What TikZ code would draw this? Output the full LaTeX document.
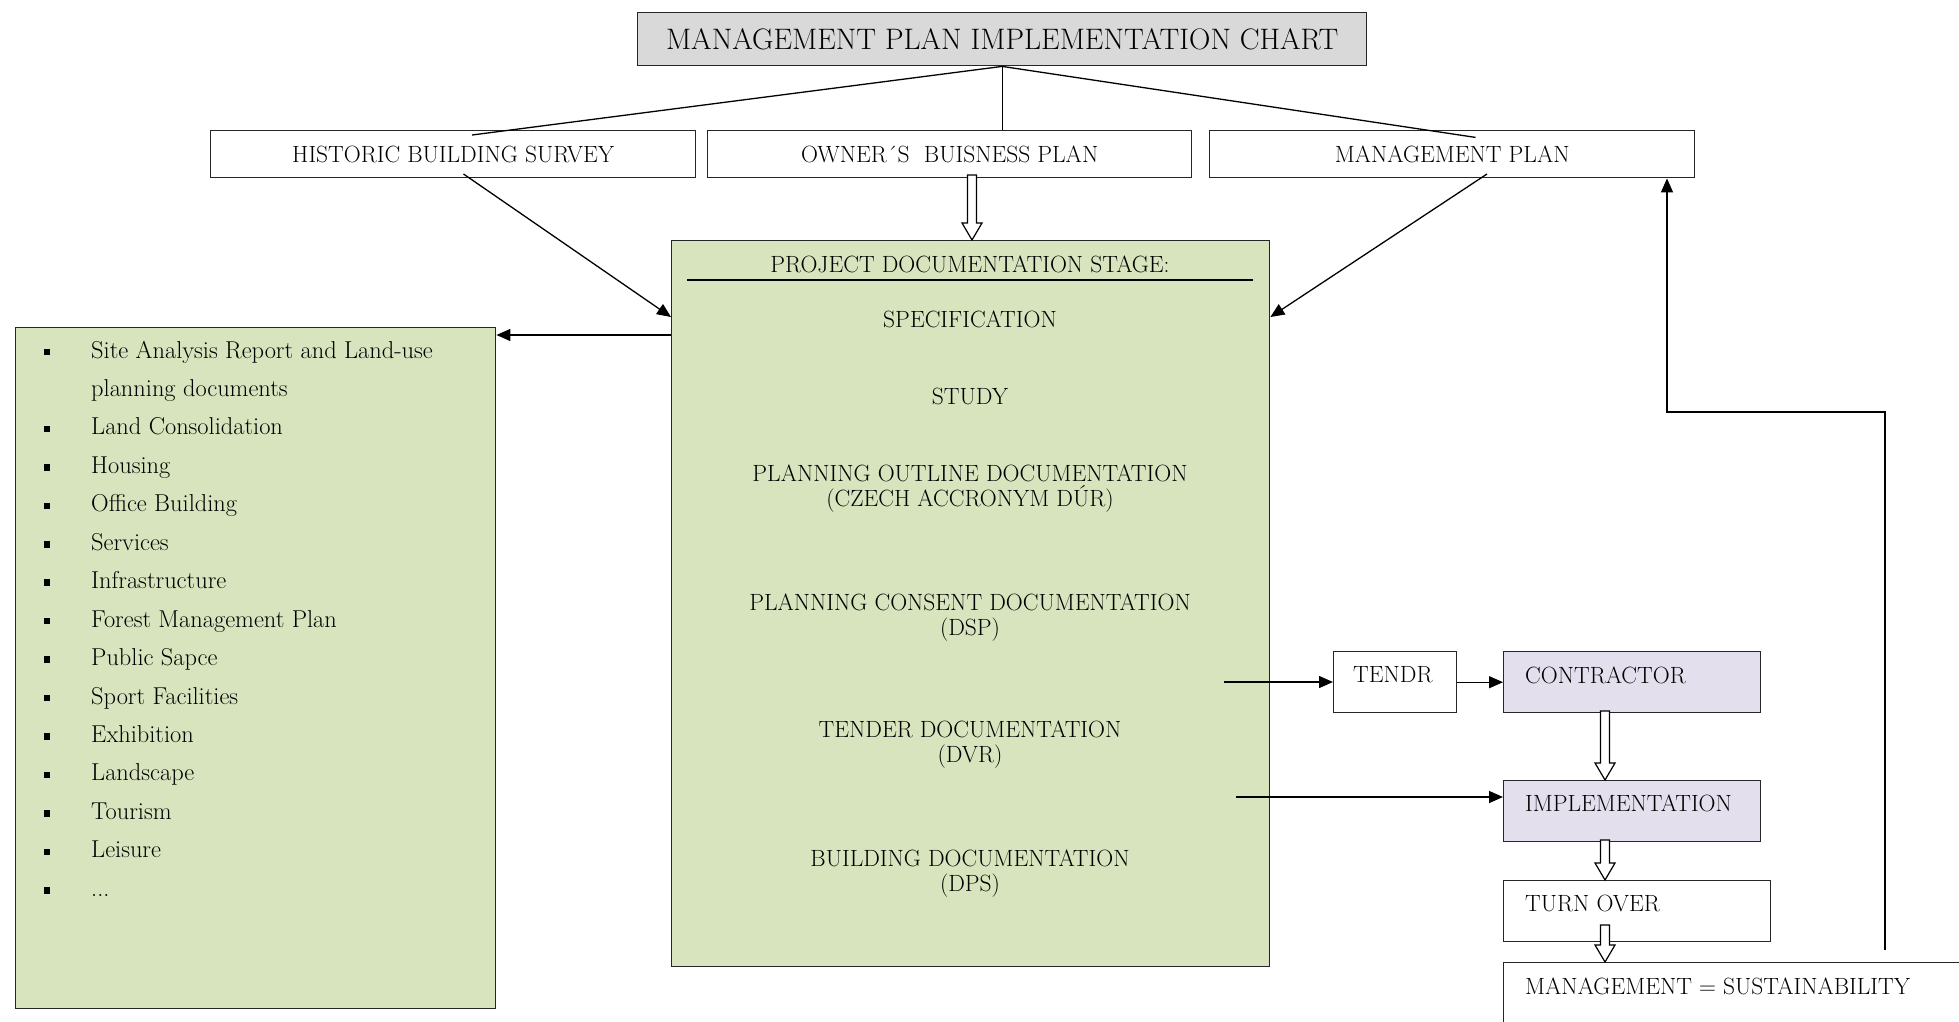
\documentclass[tikz,border=0pt]{standalone}
\usetikzlibrary{arrows.meta,calc}
\definecolor{greenfill}{HTML}{D7E4BD}
\definecolor{grayfill}{HTML}{D9D9D9}
\definecolor{lavfill}{HTML}{E4DFEC}
\newcommand\hollowarrow[2]{%
  \draw[line width=1.2pt, fill=white] let \p1=(#1), \p2=(#2) in
    (\x1-4.5pt,\y1) -- (\x1-4.5pt,\y2+17pt) -- (\x1-10pt,\y2+17pt) -- (\x1,\y2)
    -- (\x1+10pt,\y2+17pt) -- (\x1+4.5pt,\y2+17pt) -- (\x1+4.5pt,\y1) -- cycle;}
\begin{document}
\begin{tikzpicture}[x=1pt,y=-1pt,
  box/.style={draw=black!85, line width=1.4pt, inner sep=0pt, anchor=north west},
  conn/.style={line width=1.3pt},
  arr/.style={conn, -{Triangle[length=14pt,width=12pt]}},
  ctxt/.style={inner sep=0pt, align=center, font=\fontsize{23.5}{25}\selectfont},
  ltxt/.style={inner sep=0pt, anchor=west, font=\fontsize{23.5}{25}\selectfont},
  itxt/.style={inner sep=0pt, anchor=base west, font=\fontsize{24.4}{26}\selectfont},
  bul/.style={fill=black, inner sep=0pt, minimum size=6.5pt},
]
\clip (0,0) rectangle (1959,1021);
\fill[white] (0,0) rectangle (1959,1021);

% title and top row
\node[box, fill=grayfill, minimum width=729pt, minimum height=53pt] (title) at (637,12) {};
\node[ctxt, font=\fontsize{29.6}{30}\selectfont] (titletxt) at (title.center) {MANAGEMENT PLAN IMPLEMENTATION CHART};

\node[box, minimum width=485pt, minimum height=47pt] (hbs) at (210,130) {};
\node[ctxt] (hbstxt) at (hbs.center) {HISTORIC BUILDING SURVEY};
\node[box, minimum width=484pt, minimum height=47pt] (obp) at (707,130) {};
\node[ctxt] (obptxt) at (obp.center) {OWNER´S\ \ BUISNESS PLAN};
\node[box, minimum width=485pt, minimum height=47pt] (mp) at (1209,130) {};
\node[ctxt] (mptxt) at (mp.center) {MANAGEMENT PLAN};

% project documentation box
\node[box, fill=greenfill, minimum width=598pt, minimum height=726pt] (proj) at (671,240) {};
\node[ctxt] (p0) at (970,264) {PROJECT DOCUMENTATION STAGE:};
\draw[conn] (687,280) -- (1253,280);
\node[ctxt] (p1) at (970,319) {SPECIFICATION};
\node[ctxt] (p2) at (970,396) {STUDY};
\node[ctxt] (p3) at (970,488.5) {PLANNING OUTLINE DOCUMENTATION\\(CZECH ACCRONYM DÚR)};
\node[ctxt] (p4) at (970,617.5) {PLANNING CONSENT DOCUMENTATION\\(DSP)};
\node[ctxt] (p5) at (970,744.5) {TENDER DOCUMENTATION\\(DVR)};
\node[ctxt] (p6) at (970,873.5) {BUILDING DOCUMENTATION\\(DPS)};

% list box
\node[box, fill=greenfill, minimum width=480pt, minimum height=681pt] (list) at (15,327) {};
\foreach \t [count=\i from 0] in {{Site Analysis Report and Land-use}, {planning documents},
  {Land Consolidation}, {Housing}, {Office Building}, {Services}, {Infrastructure},
  {Forest Management Plan}, {Public Sapce}, {Sport Facilities}, {Exhibition}, {Landscape},
  {Tourism}, {Leisure}, {{.}{.}{.}}}{
  \node[itxt] (li\i) at (91, 358+38.45*\i) {\t};
}
\foreach \i in {0,2,4,5,6,7,8,9,10,11,12,13,14,3}{
  \node[bul] (b\i) at (47, 352+38.45*\i) {};
}

% right-side flow
\node[box, minimum width=123pt, minimum height=61pt] (tendr) at (1333,651) {};
\node[ltxt] (tendrtxt) at (1353,675) {TENDR};
\node[box, fill=lavfill, minimum width=257pt, minimum height=61pt] (contr) at (1503,651) {};
\node[ltxt] (contrtxt) at (1525,675) {CONTRACTOR};
\node[box, fill=lavfill, minimum width=257pt, minimum height=61pt] (impl) at (1503,780) {};
\node[ltxt] (impltxt) at (1525,803) {IMPLEMENTATION};
\node[box, minimum width=267pt, minimum height=61pt] (turn) at (1503,880) {};
\node[ltxt] (turntxt) at (1525,903) {TURN OVER};
\node[box, minimum width=500pt, minimum height=100pt] (mgmt) at (1503,962) {};
\node[ltxt] (mgmttxt) at (1525,986) {MANAGEMENT = SUSTAINABILITY};

% connectors from title
\draw[conn] (title.south) -- ($(hbs.north west)+(262,5)$);
\draw[conn] (title.south) -- (title.south |- obp.north);
\draw[conn] (title.south) -- ($(mp.north west)+(266.5,7.4)$);

% arrows into project box
\coordinate (hbsout) at (463.5,174);
\draw[arr] (hbsout) -- ($(proj.north west)+(0,77)$);
\coordinate (mpout) at (1487,174);
\draw[arr] (mpout) -- ($(proj.north east)+(0,77)$);
\draw[arr] ($(proj.north west)+(0,95)$) -- ($(list.north east)+(0,8)$);

% hollow arrows
\coordinate (ha1) at (972,175);
\hollowarrow{ha1}{ha1 |- proj.north}
\coordinate (ha2) at (1605,711);
\hollowarrow{ha2}{ha2 |- impl.north}
\coordinate (ha3) at (1605,840);
\hollowarrow{ha3}{ha3 |- turn.north}
\coordinate (ha4) at (1605,925);
\hollowarrow{ha4}{ha4 |- mgmt.north}

% tender / implementation arrows
\coordinate (ta) at (1224,682);
\draw[arr] (ta) -- (ta -| tendr.west);
\draw[arr] (tendr.east) -- (contr.west);
\coordinate (ia) at (1236,797);
\draw[arr] (ia) -- (ia -| impl.west);

% feedback loop
\coordinate (fbstart) at (1885,950);
\coordinate (fbturn) at (1667,412);
\draw[arr] (fbstart) -- (fbstart |- fbturn) -- (fbturn) -- (fbturn |- mp.south);
\end{tikzpicture}
\end{document}
